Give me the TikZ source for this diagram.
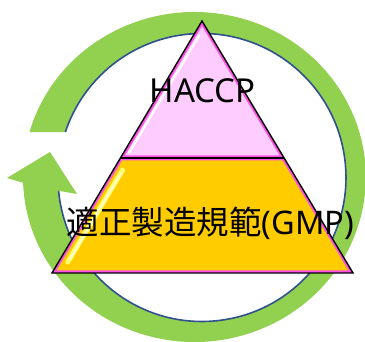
\documentclass[tikz,border=0pt]{standalone}
\usepackage{fontspec}
\setmainfont{Noto Sans}
\newfontfamily\cjkfont{Noto Sans CJK JP}
\definecolor{ringgreen}{RGB}{146,208,80}
\definecolor{ringblue}{RGB}{47,82,143}
\definecolor{toppink}{RGB}{255,204,255}
\definecolor{gmpgold}{RGB}{255,204,0}
\definecolor{edgepink}{RGB}{255,80,230}
\definecolor{glowyellow}{RGB}{255,255,110}
\tikzset{
  ring/.style={fill=ringgreen},
  ringline/.style={draw=ringblue, line width=1.6pt},
  pinkedge/.style={draw=edgepink, line width=5pt, line join=miter},
  outline/.style={draw=black, line width=1.4pt, line join=miter},
  label/.style={anchor=base, text=black, inner sep=0pt}
}
\begin{document}
\begin{tikzpicture}[x=1pt,y=1pt]
\useasboundingbox (0,0) rectangle (365,342);
% ring arrow key points
\coordinate (tailout) at (29.5,209.9);
\coordinate (tailin) at (65.4,210);
\coordinate (headout) at (23.1,159.2);
\coordinate (headin) at (58.6,151.2);
\coordinate (barbl) at (7,164);
\coordinate (tip) at (50,190);
\coordinate (barbr) at (77,148);
\fill[ring] (tailout) arc[start angle=164.2, end angle=-178, x radius=171.4pt, y radius=165pt]
  -- (barbl) -- (tip) -- (barbr) -- (headin)
  arc[start angle=-174.7, end angle=161.6, radius=144pt] -- cycle;
\draw[ringline] (headin) arc[start angle=-174.7, end angle=161.6, radius=144pt];
% pyramid
\coordinate (apex) at (202,321);
\coordinate (bl) at (52,69);
\coordinate (br) at (353,69);
\coordinate (ml) at (120.5,184);
\coordinate (mr) at (284.1,184);
\begin{scope}
  \clip (apex) -- (ml) -- (mr) -- cycle;
  \fill[toppink] (apex) -- (ml) -- (mr) -- cycle;
  \draw[white, line width=2.5pt, opacity=0.9, line cap=round] (199.1,306.4) -- (129.1,189.4);
  \draw[pinkedge] (apex) -- (ml) -- (mr) -- cycle;
\end{scope}
\begin{scope}
  \clip (ml) -- (bl) -- (br) -- (mr) -- cycle;
  \fill[gmpgold] (ml) -- (bl) -- (br) -- (mr) -- cycle;
  \draw[glowyellow, line width=5pt, line cap=round] (122.6,171.9) -- (67.8,80);
  \draw[white, line width=1.5pt, opacity=0.8, line cap=round] (121,169) -- (70,83);
  \draw[pinkedge] (ml) -- (bl) -- (br) -- (mr) -- cycle;
\end{scope}
\draw[outline] (apex) -- (bl) -- (br) -- cycle;
\draw[outline] (ml) -- (mr);
% labels
\node[label, font=\fontsize{33}{33}\selectfont] (haccp) at (202.5,239) {HACCP};
\node[label, font=\fontsize{32.5}{32.5}\selectfont] (gmp) at (210.5,107) {{\cjkfont 適正製造規範}(GMP)};
\end{tikzpicture}
\end{document}
